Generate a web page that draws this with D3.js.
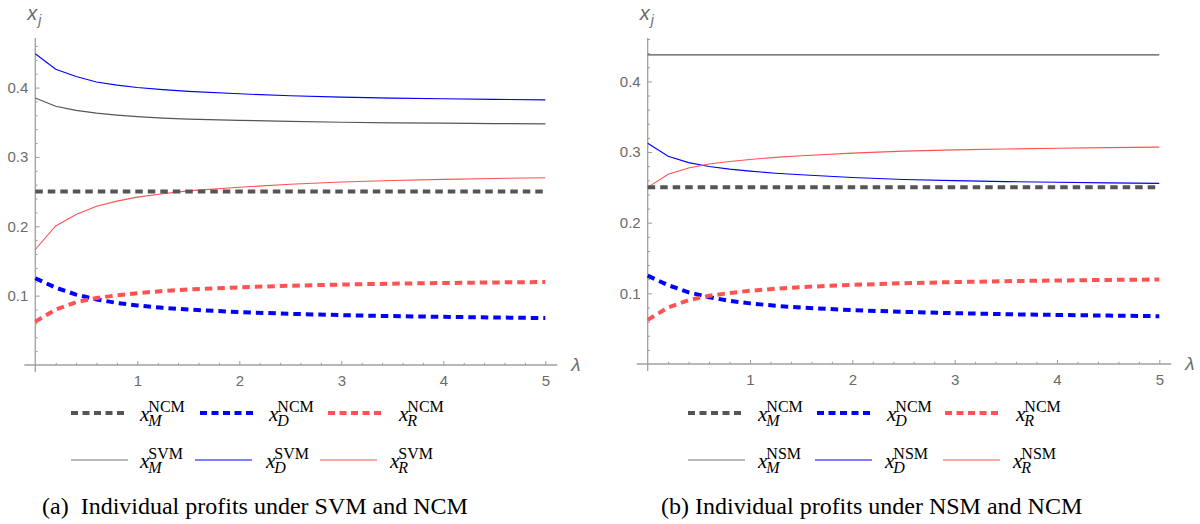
<!DOCTYPE html>
<html><head><meta charset="utf-8">
<script src="https://cdn.jsdelivr.net/npm/d3@7"></script>
<style>
html,body{margin:0;padding:0;background:#fff;}
svg{display:block;}
.cap{font-family:"Liberation Serif","Times New Roman",serif;font-size:24px;white-space:pre;fill:#000;}
.leg{font-family:"Liberation Serif","Times New Roman",serif;fill:#000;}
.lx{font-style:italic;font-size:21px;}
.lsup{font-style:normal;font-size:16px;}
.lsub{font-style:italic;font-size:16px;}
.tick text{font-family:"Liberation Sans",Arial,sans-serif;font-size:15px;fill:#6b6b6b;}
.axlab{font-family:"Liberation Sans",Arial,sans-serif;font-style:italic;fill:#6b6b6b;}
</style></head><body>
<svg id="chart" width="1200" height="524"></svg>
<script>
// ---------------- data ----------------
const lambda  = [0, 0.2, 0.4, 0.6, 0.8, 1, 1.25, 1.5, 2, 2.5, 3, 3.5, 4, 4.5, 5];

const xM_NCM = [0.25, 0.25, 0.25, 0.25, 0.25, 0.25, 0.25, 0.25, 0.25, 0.25, 0.25, 0.25, 0.25, 0.25, 0.25];
const xD_NCM = [0.125, 0.1115, 0.1015, 0.0945, 0.0895, 0.0858, 0.0824, 0.0799, 0.0763, 0.0738, 0.0719, 0.0705, 0.0694, 0.0685, 0.0677];
const xR_NCM = [0.0625, 0.0800, 0.0905, 0.0965, 0.1005, 0.1036, 0.1066, 0.1089, 0.1120, 0.1143, 0.1160, 0.1172, 0.1182, 0.1190, 0.1196];

const xM_SVM = [0.385, 0.3730, 0.3672, 0.3630, 0.3602, 0.3580, 0.3560, 0.3545, 0.3527, 0.3512, 0.3500, 0.3492, 0.3486, 0.3481, 0.3477];
const xD_SVM = [0.4488, 0.4265, 0.4158, 0.4080, 0.4035, 0.4000, 0.3970, 0.3945, 0.3910, 0.3882, 0.3862, 0.3848, 0.3838, 0.3830, 0.3823];
const xR_SVM = [0.1665, 0.2005, 0.2170, 0.2290, 0.2363, 0.2420, 0.2470, 0.2510, 0.2563, 0.2606, 0.2638, 0.2660, 0.2676, 0.2689, 0.2700];

const xM_NSM = [0.4375, 0.4375, 0.4375, 0.4375, 0.4375, 0.4375, 0.4375, 0.4375, 0.4375, 0.4375, 0.4375, 0.4375, 0.4375, 0.4375, 0.4375];
const xD_NSM = [0.3125, 0.2940, 0.2850, 0.2795, 0.2758, 0.2730, 0.2700, 0.2678, 0.2640, 0.2612, 0.2595, 0.2582, 0.2572, 0.2563, 0.2556];
const xR_NSM = [0.2500, 0.2685, 0.2775, 0.2830, 0.2867, 0.2895, 0.2925, 0.2947, 0.2985, 0.3013, 0.3030, 0.3043, 0.3053, 0.3062, 0.3069];

const xTicks = [1, 2, 3, 4, 5];
const xTickLabels = ["1", "2", "3", "4", "5"];
const yTicks = [0.1, 0.2, 0.3, 0.4];
const yTickLabels = ["0.1", "0.2", "0.3", "0.4"];

const captions = ["(a)  Individual profits under SVM and NCM", "(b) Individual profits under NSM and NCM"];

// ---------------- styles ----------------
const C_GRAY = "#555555", C_BLUE = "#0000ff", C_RED = "#ff5252";
const DASH = "7.5,5";

const svg = d3.select("#chart");

const panels = [
  { x0: 35.3, x1: 545.3, y0: 365, yTop: 39, yMax: 0.47,
    solid: [xM_SVM, xD_SVM, xR_SVM], tag: "SVM",
    leg1: [71, 200, 328], leg1L: [140, 269, 399],
    leg2: [71, 195, 320], leg2L: [140, 266, 390],
    capX: 42 },
  { x0: 647.7, x1: 1159.3, y0: 364, yTop: 39, yMax: 0.46,
    solid: [xM_NSM, xD_NSM, xR_NSM], tag: "NSM",
    leg1: [688, 817, 945], leg1L: [758, 887, 1016],
    leg2: [688, 815, 943], leg2L: [758, 885, 1013],
    capX: 661 }
];

const dashedSeries = [xM_NCM, xD_NCM, xR_NCM];
const colors = [C_GRAY, C_BLUE, C_RED];
const subs = ["M", "D", "R"];

panels.forEach((p, pi) => {
  const g = svg.append("g");
  const x = d3.scaleLinear().domain([0, 5]).range([p.x0, p.x1]);
  const y = d3.scaleLinear().domain([0, p.yMax]).range([p.y0, p.yTop]);

  // minor ticks
  const xMinor = d3.range(1, 26).map(i => i * 0.2).filter(v => Math.abs(v - Math.round(v)) > 1e-6);
  const yMinor = d3.range(1, Math.floor(p.yMax / 0.02 + 1e-6) + 1).map(i => i * 0.02).filter(v => Math.abs(v * 10 - Math.round(v * 10)) > 1e-6);

  const gx = g.append("g").attr("transform", `translate(0,${y(0)})`);
  gx.append("g").call(d3.axisBottom(x).tickValues(xMinor).tickSize(-2.2).tickFormat(""));
  gx.append("g").call(d3.axisBottom(x).tickValues(xTicks).tickSize(-4).tickPadding(10)
      .tickFormat((d, i) => xTickLabels[i]));
  const gy = g.append("g").attr("transform", `translate(${x(0)},0)`);
  gy.append("g").call(d3.axisLeft(y).tickValues(yMinor).tickSize(-2.3).tickFormat(""));
  gy.append("g").call(d3.axisLeft(y).tickValues(yTicks).tickSize(-4.3).tickPadding(7)
      .tickFormat((d, i) => yTickLabels[i]));
  g.selectAll(".domain").remove();
  g.selectAll(".tick line").attr("stroke", "#9a9a9a").attr("stroke-width", 1);

  // axis lines
  g.append("line").attr("x1", x(0) - 11).attr("x2", x(5) + 12).attr("y1", y(0)).attr("y2", y(0))
    .attr("stroke", "#a0a0a0").attr("stroke-width", 1.3);
  g.append("line").attr("x1", x(0)).attr("x2", x(0)).attr("y1", p.yTop - 1).attr("y2", y(0) + 7)
    .attr("stroke", "#a0a0a0").attr("stroke-width", 1.3);

  // axis labels
  const xl = g.append("text").attr("class", "axlab").attr("x", x(0) - 8).attr("y", 20).attr("font-size", 20);
  xl.append("tspan").text("x");
  xl.append("tspan").attr("font-size", 14).attr("dy", 5).attr("dx", 1).text("j");
  g.append("text").attr("class", "axlab").attr("x", x(5) + 26).attr("y", y(0) + 6).attr("font-size", 19).text("λ");

  const line = d3.line().x((d, i) => x(lambda[i])).y(d => y(d)).curve(d3.curveLinear);

  // solid lines
  p.solid.forEach((s, k) => {
    g.append("path").datum(s).attr("d", line).attr("fill", "none")
      .attr("stroke", colors[k]).attr("stroke-width", k === 0 ? 1.2 : 1.1);
  });
  // dashed lines
  dashedSeries.forEach((s, k) => {
    g.append("path").datum(s).attr("d", line).attr("fill", "none")
      .attr("stroke", colors[k]).attr("stroke-width", 4).attr("stroke-dasharray", DASH);
  });

  // legend
  const rows = [
    { ly: 413, starts: p.leg1, labs: p.leg1L, len: 54, dashed: true, sup: "NCM" },
    { ly: 460, starts: p.leg2, labs: p.leg2L, len: 57, dashed: false, sup: p.tag }
  ];
  rows.forEach(r => {
    r.starts.forEach((sx, k) => {
      const ln = g.append("line").attr("x1", sx).attr("x2", sx + r.len).attr("y1", r.ly).attr("y2", r.ly)
        .attr("stroke", colors[k]);
      if (r.dashed) ln.attr("stroke-width", 4).attr("stroke-dasharray", "7,4.5");
      else ln.attr("stroke-width", 1.2).attr("stroke", k === 0 ? "#777" : colors[k]);
      const t = g.append("text").attr("class", "leg").attr("x", r.labs[k]).attr("y", r.ly + 8);
      t.append("tspan").attr("class", "lx").text("x");
      const sp = t.append("tspan").attr("class", "lsup").attr("dx", -1).attr("dy", -9).text(r.sup);
      const supW = sp.node().getComputedTextLength();
      t.append("tspan").attr("class", "lsub").attr("dx", -supW).attr("dy", 14).text(subs[k]);
    });
  });

  // caption
  svg.append("text").attr("class", "cap").attr("x", p.capX).attr("y", 514).text(captions[pi]);
});
</script>
</body></html>
